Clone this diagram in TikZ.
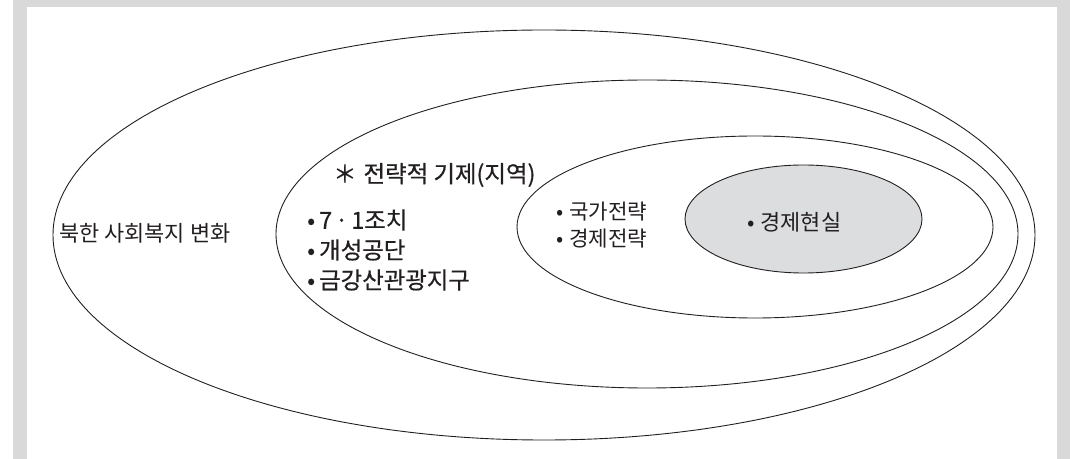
\documentclass[tikz,border=0pt]{standalone}
\usepackage{fontspec}
\setmainfont{Noto Sans CJK KR}
\newfontfamily\krreg{Noto Sans CJK KR}
\newfontfamily\krmed[FakeBold=0.6]{Noto Sans CJK KR}
\definecolor{framegray}{HTML}{D9D9D9}
\definecolor{fillgray}{HTML}{DCDDDF}
\definecolor{ink}{HTML}{231F20}
\tikzset{
  ring/.style={draw=ink, line width=0.9bp},
  core/.style={draw=ink, line width=0.9bp, fill=fillgray},
  lbl/.style={anchor=west, inner sep=0pt, text=ink, font=\krreg\fontsize{22}{26}\selectfont},
  lblb/.style={anchor=west, inner sep=0pt, text=ink, font=\krmed\fontsize{23.5}{28}\selectfont},
  lbls/.style={lbl, font=\krreg\fontsize{21.3}{26}\selectfont},
}
\begin{document}
\begin{tikzpicture}[x=1bp,y=-1bp]
\useasboundingbox (0,0) rectangle (1070,459);
% frame
\fill[framegray] (13,0) rectangle (1070,7);
\fill[framegray] (13,0) rectangle (27,459);
\fill[framegray] (1057,0) rectangle (1070,459);
% ellipses
\draw[ring] (544,235) ellipse [x radius=491bp, y radius=205bp];
\draw[ring] (647,234) ellipse [x radius=371bp, y radius=154bp];
\draw[ring] (755,227) ellipse [x radius=238bp, y radius=91bp];
\draw[core] (803.5,219) ellipse [x radius=118.5bp, y radius=54bp];
% texts
\node[lbl] (outer) at (59,233) {북한 사회복지 변화};
\node[lblb] (head) at (333,175) {＊\hspace{7bp}전략적 기제(지역)};
\node[lblb] (b1) at (307,220) {•\hspace{4bp}7\hspace{3bp}·\hspace{3bp}1조치};
\node[lblb] (b2) at (307,250) {•\hspace{4bp}개성공단};
\node[lblb] (b3) at (307,280) {•\hspace{4bp}금강산관광지구};
\node[lbls] (s1) at (556,212) {•\hspace{6bp}국가전략};
\node[lbls] (s2) at (556,239) {•\hspace{6bp}경제전략};
\node[lbl] (c1) at (747,222) {•\hspace{6bp}경제현실};
\end{tikzpicture}
\end{document}
